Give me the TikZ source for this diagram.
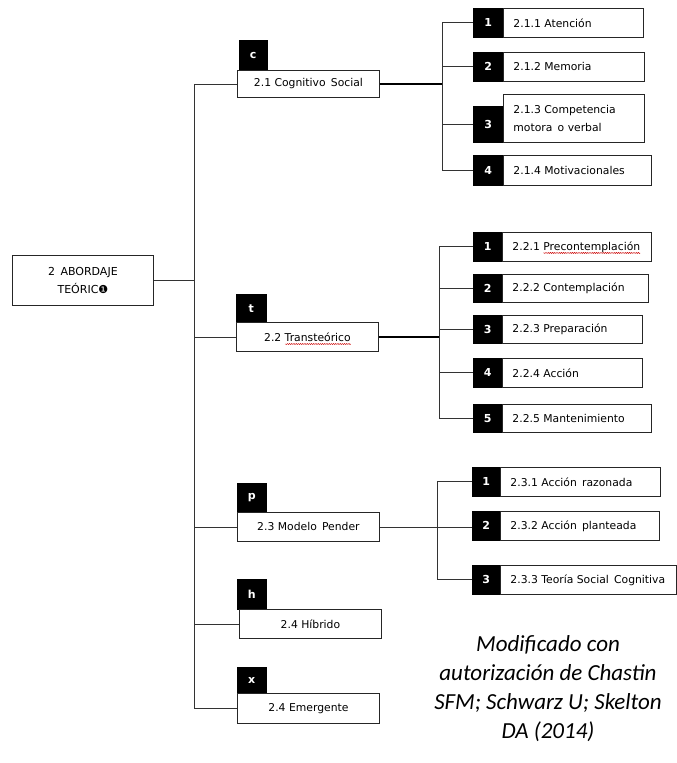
\documentclass[tikz,border=0pt]{standalone}
\usepackage{fontspec}
\setmainfont{DejaVu Sans}
\newfontfamily\capfont{Carlito}
\usetikzlibrary{decorations.pathmorphing}
\newlength\wavyw
\newcommand\bx[7][]{\pgfmathsetmacro\bw{#5-#3}\pgfmathsetmacro\bh{#6-#4}\pgfmathsetmacro\tw{#5-#3-20}\node[#1,minimum width=\bw pt,minimum height=\bh pt,anchor=north west] (#2) at (#3,#4) {#7};}
\newcommand\lt[1]{\makebox[\tw pt][l]{#1}}
\newcommand\wavy[1]{\setbox0=\hbox{#1}\setlength\wavyw{\wd0}\copy0\tikz[overlay,baseline=0pt]{\draw[red!80!black,line width=0.45pt,decorate,decoration={snake,amplitude=0.55pt,segment length=2.2pt}] (0pt,-2.8pt) -- (-\wavyw,-2.8pt);}}
\begin{document}
\begin{tikzpicture}[x=1pt,y=-1pt,font=\fontsize{10.8}{14}\selectfont,
  mainbox/.style={draw=black!85,line width=0.9pt,fill=white,inner sep=0pt,align=center},
  badge/.style={draw=black,fill=black,text=white,inner sep=0pt,font=\bfseries\fontsize{11}{11}\selectfont},
  child/.style={draw=black!85,line width=0.9pt,fill=white,inner xsep=10pt,inner ysep=0pt,align=left},
  conn/.style={draw=black!80,line width=0.9pt},
  thickconn/.style={draw=black,line width=2.4pt}]
\useasboundingbox (0,0) rectangle (677,763);
% root
\bx[mainbox,font=\fontsize{11}{18}\selectfont]{root}{12}{255}{153}{305}{2\, ABORDAJE\\TEÓRIC❶}
% level 1
\bx[badge]{bc}{239}{40}{267}{70}{c}
\bx[mainbox]{b21}{237}{70}{379}{97}{2.1 Cognitivo\, Social}
\bx[badge]{bt}{236}{294}{266}{322}{t}
\bx[mainbox]{b22}{236}{322}{378}{351}{2.2 \wavy{Transteórico}}
\bx[badge]{bp}{237}{483}{266}{512}{p}
\bx[mainbox]{b23}{237}{512}{379}{541}{2.3 Modelo\, Pender}
\bx[badge]{bh}{237}{579}{266}{609}{h}
\bx[mainbox]{b24h}{239}{609}{381}{638}{2.4 Híbrido}
\bx[badge]{bx}{237}{667}{266}{693}{x}
\bx[mainbox]{b24e}{237}{693}{379}{723}{2.4 Emergente}
% children 2.1
\bx[badge]{c1b}{473}{8}{503}{37}{1}
\bx[child]{c1}{503}{8}{643}{37}{\lt{2.1.1 Atención}}
\bx[badge]{c2b}{473}{52}{503}{81}{2}
\bx[child]{c2}{503}{52}{644}{81}{\lt{2.1.2 Memoria}}
\bx[badge]{c3b}{473}{106}{503}{142}{3}
\bx[child,font=\fontsize{10.8}{18}\selectfont]{c3}{503}{94}{644}{142}{\lt{2.1.3 Competencia}\\\lt{motora\, o verbal}}
\bx[badge]{c4b}{473}{155}{503}{185}{4}
\bx[child]{c4}{503}{155}{651}{185}{\lt{2.1.4 Motivacionales}}
% children 2.2
\bx[badge]{d1b}{473}{232}{502}{261}{1}
\bx[child]{d1}{502}{232}{651}{261}{\lt{2.2.1 \wavy{Precontemplación}}}
\bx[badge]{d2b}{473}{274}{502}{302}{2}
\bx[child]{d2}{502}{274}{648}{302}{\lt{2.2.2 Contemplación}}
\bx[badge]{d3b}{473}{315}{502}{343}{3}
\bx[child]{d3}{502}{315}{642}{343}{\lt{2.2.3 Preparación}}
\bx[badge]{d4b}{473}{358}{502}{387}{4}
\bx[child]{d4}{502}{358}{642}{387}{\lt{2.2.4 Acción}}
\bx[badge]{d5b}{473}{404}{502}{432}{5}
\bx[child]{d5}{502}{404}{651}{432}{\lt{2.2.5 Mantenimiento}}
% children 2.3
\bx[badge]{e1b}{472}{467}{500}{496}{1}
\bx[child]{e1}{500}{467}{660}{496}{\lt{2.3.1 Acción\, razonada}}
\bx[badge]{e2b}{472}{511}{500}{540}{2}
\bx[child]{e2}{500}{511}{659}{540}{\lt{2.3.2 Acción\, planteada}}
\bx[badge]{e3b}{472}{565}{500}{594}{3}
\bx[child]{e3}{500}{565}{676}{594}{\lt{2.3.3 Teoría Social\, Cognitiva}}
% connectors main
\coordinate (T) at (194,0);
\draw[conn] (T |- b21.west) -- (T |- b24e.west);
\draw[conn] (root.east) -- (root.east -| T);
\foreach \b in {b21,b22,b23,b24h,b24e} {\draw[conn] (T |- \b.west) -- (\b.west);}
% 2.1
\coordinate (S1) at (442,0);
\draw[thickconn] (b21.east) -- (b21.east -| S1);
\draw[conn] (S1 |- c1b.west) -- (S1 |- c4b.west);
\foreach \b in {c1b,c2b,c3b,c4b} {\draw[conn] (S1 |- \b.west) -- (\b.west);}
% 2.2
\coordinate (S2) at (439,0);
\draw[thickconn] (b22.east) -- (b22.east -| S2);
\draw[conn] (S2 |- d1b.west) -- (S2 |- d5b.west);
\foreach \b in {d1b,d2b,d3b,d4b,d5b} {\draw[conn] (S2 |- \b.west) -- (\b.west);}
% 2.3
\coordinate (S3) at (437,0);
\draw[conn] (b23.east) -- (b23.east -| e2b.west);
\draw[conn] (S3 |- e1b.west) -- (S3 |- e3b.west);
\foreach \b in {e1b,e3b} {\draw[conn] (S3 |- \b.west) -- (\b.west);}
% caption
\node[font=\capfont\itshape\fontsize{23}{29}\selectfont,align=center] (cap) at (548,689) {Modificado con\\autorización de Chastin\\SFM; Schwarz U; Skelton\\DA (2014)};
\end{tikzpicture}
\end{document}
